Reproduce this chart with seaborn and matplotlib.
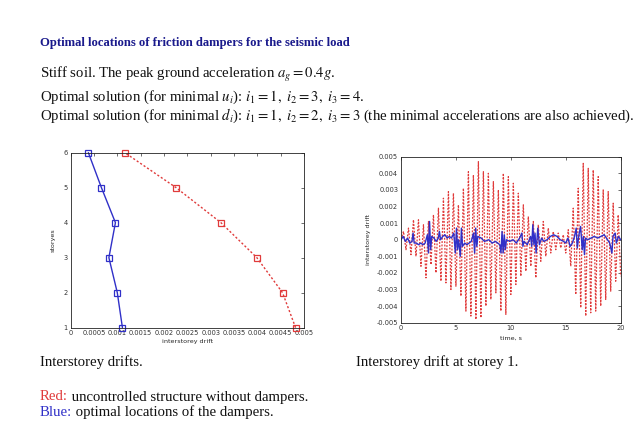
import matplotlib
matplotlib.use('Agg')
import matplotlib.pyplot as plt
import seaborn as sns
import pandas as pd
import numpy as np

# ── Data: interstorey drift per storey ───────────────────
storeys = [1, 2, 3, 4, 5, 6]
drift_red = [0.00482, 0.00454, 0.00399, 0.00322, 0.00226, 0.00116]
drift_blue = [0.00111, 0.00100, 0.00082, 0.00096, 0.00066, 0.00038]

# ── Data: drift at storey 1 over time (read extremes) ────
red_peaks = [0.0005, 0.0007, 0.0012, 0.0012, 0.0009, 0.0011, 0.0015, 0.0019,
             0.0025, 0.0029, 0.0028, 0.0021, 0.0031, 0.0041, 0.0039, 0.0047,
             0.0041, 0.0040, 0.0035, 0.0030, 0.0040, 0.0038, 0.0034, 0.0028,
             0.0021, 0.0014, 0.0011, 0.0009, 0.0011, 0.0007, 0.0005, 0.0004,
             0.0003, 0.0006, 0.0019, 0.0031, 0.0046, 0.0043, 0.0042, 0.0038,
             0.0030, 0.0029, 0.0022, 0.0015]
red_troughs = [-0.0006, -0.0009, -0.0010, -0.0016, -0.0023, -0.0015, -0.0020,
               -0.0025, -0.0026, -0.0030, -0.0028, -0.0034, -0.0043, -0.0046,
               -0.0048, -0.0047, -0.0040, -0.0036, -0.0032, -0.0043, -0.0045,
               -0.0033, -0.0027, -0.0022, -0.0019, -0.0016, -0.0023, -0.0013,
               -0.0010, -0.0008, -0.0006, -0.0005, -0.0008, -0.0016, -0.0033,
               -0.0041, -0.0046, -0.0044, -0.0043, -0.0040, -0.0036, -0.0031,
               -0.0025, -0.0022]

blue_t = [0.0, 0.2, 0.4, 0.6, 0.8, 1.0, 1.1, 1.2, 1.4, 1.6, 1.8, 2.0, 2.2, 2.4,
          2.5, 2.6, 2.7, 2.8, 3.0, 3.2, 3.4, 3.5, 3.6, 3.8, 4.0, 4.2, 4.4, 4.6,
          4.8, 4.95, 5.05, 5.15, 5.25, 5.4, 5.5, 5.6, 5.8, 6.0, 6.2, 6.4, 6.6,
          6.7, 6.8, 6.9, 7.0, 7.3, 7.6, 8.0, 8.3, 8.6, 9.0, 9.1, 9.2, 9.3, 9.4,
          9.5, 9.6, 9.9, 10.2, 10.5, 10.8, 11.0, 11.1, 11.2, 11.5, 11.8, 11.9,
          12.0, 12.1, 12.2, 12.3, 12.45, 12.6, 12.8, 13.0, 13.3, 13.6, 13.9,
          14.2, 14.5, 14.8, 15.0, 15.2, 15.4, 15.6, 15.8, 15.95, 16.05, 16.2,
          16.35, 16.5, 16.6, 16.7, 16.8, 17.0, 17.3, 17.6, 17.9, 18.2, 18.5,
          18.8, 19.0, 19.2, 19.3, 19.5, 19.6, 19.8, 20.0]
blue_v = [0.0, 0.0002, -0.0001, 0.0001, -0.0002, -0.0001, 0.0004, -0.0002,
          -0.0002, -0.0003, -0.0002, -0.0003, -0.0002, 0.0003, -0.0008, 0.0011,
          -0.0006, 0.0002, 0.0001, -0.0001, 0.0001, 0.0005, 0.0, 0.0002, 0.0003,
          0.0001, 0.0002, 0.0001, 0.0004, -0.0008, 0.0007, -0.0006, 0.0, -0.0010,
          0.0007, -0.0004, -0.0002, -0.0003, -0.0002, -0.0001, 0.0004, -0.0008,
          0.0007, -0.0004, 0.0002, 0.0001, -0.0001, 0.0, -0.0002, -0.0001,
          -0.0003, -0.0008, 0.0005, -0.0008, 0.0003, -0.0006, 0.0, -0.0001, 0.0,
          -0.0002, 0.0001, 0.0004, -0.0004, -0.0001, -0.0003, 0.0002, -0.0004,
          0.0009, -0.0003, 0.0004, -0.0008, 0.0007, -0.0003, 0.0001, -0.0001,
          0.0, 0.0002, 0.0003, 0.0002, 0.0, -0.0001, -0.0002, 0.0001, -0.0004,
          -0.0002, 0.0002, 0.0007, -0.0005, 0.0003, 0.0008, -0.0006, 0.0002,
          -0.0009, 0.0001, 0.0, 0.0001, 0.0002, 0.0001, 0.0002, 0.0003, 0.0,
          -0.0002, -0.0008, 0.0002, 0.0004, -0.0002, 0.0002, 0.0]

# time series of red extremes: peak, trough, peak, ... evenly sampled
red_v = [0.0]
for p, q in zip(red_peaks, red_troughs):
    red_v += [p, q]
red_t = np.linspace(0, 20, len(red_v))

RED = '#e03a3a'
BLUE = '#3030c8'
TITLE = '#1a1a8c'
BODY_FS = 10.6

sns.set_theme(style='white')
plt.rcParams['font.family'] = ['DejaVu Sans']
plt.rcParams['mathtext.fontset'] = 'stix'

fig = plt.figure(figsize=(6.42, 4.30), dpi=100)
fig.patch.set_facecolor('white')

serif = ['Liberation Serif', 'DejaVu Serif']

# ── Slide text ───────────────────────────────────────────
fig.text(40 / 642, 1 - 43 / 430,
         'Optimal locations of friction dampers for the seismic load',
         family=serif, fontsize=9.1, fontweight='bold', color=TITLE, va='center')
body = [
    (75, r'Stiff soil. The peak ground acceleration $a_g = 0.4g$.'),
    (97, r'Optimal solution (for minimal $u_i$): $i_1 = 1,\ i_2 = 3,\ i_3 = 4$.'),
    (116, r'Optimal solution (for minimal $d_i$): $i_1 = 1,\ i_2 = 2,\ i_3 = 3$ '
          '(the minimal accelerations are also achieved).'),
]
for y, s in body:
    fig.text(40 / 642, 1 - y / 430, s, family=serif, fontsize=BODY_FS,
             color='#111111', va='center')

# ── Left: drift per storey ───────────────────────────────
df_left = pd.DataFrame({'storey': storeys * 2,
                        'drift': drift_red + drift_blue,
                        'case': ['red'] * 6 + ['blue'] * 6})
ax1 = fig.add_axes([0.110, 0.238, 0.3635, 0.407])
sns.lineplot(data=df_left[df_left.case == 'red'], x='drift', y='storey',
             orient='y', color=RED, linestyle=(0, (1.5, 1.5)), linewidth=1.0,
             marker='s', markersize=4.5, markerfacecolor='none',
             markeredgecolor=RED, markeredgewidth=0.9, ax=ax1)
sns.lineplot(data=df_left[df_left.case == 'blue'], x='drift', y='storey',
             orient='y', color=BLUE, linewidth=1.0,
             marker='s', markersize=4.5, markerfacecolor='none',
             markeredgecolor=BLUE, markeredgewidth=0.9, ax=ax1)
for ln in ax1.lines:
    ln.set_clip_on(False)
ax1.set_xlim(0, 0.005)
ax1.set_ylim(1, 6)
ax1.set_xticks(np.arange(0, 0.00501, 0.0005))
ax1.set_xticklabels(['0', '0.0005', '0.001', '0.0015', '0.002', '0.0025',
                     '0.003', '0.0035', '0.004', '0.0045', '0.005'])
ax1.set_yticks(storeys)
ax1.set_xlabel('interstorey drift', fontsize=4.6, labelpad=2)
ax1.set_ylabel('storyes', fontsize=4.6, labelpad=6)

# ── Right: drift history at storey 1 ─────────────────────
ax2 = fig.add_axes([0.6246, 0.2495, 0.3422, 0.386])
sns.lineplot(x=red_t, y=red_v, color=RED, linewidth=0.9,
             linestyle=(0, (1.5, 1.2)), estimator=None, ax=ax2)
sns.lineplot(x=blue_t, y=blue_v, color=BLUE, linewidth=1.0,
             estimator=None, ax=ax2)
ax2.set_xlim(0, 20)
ax2.set_ylim(-0.005, 0.005)
ax2.set_xticks([0, 5, 10, 15, 20])
yt = np.round(np.arange(-0.005, 0.00501, 0.001), 3)
ax2.set_yticks(yt)
ax2.set_yticklabels(['0' if v == 0 else f'{v:g}' for v in yt])
ax2.set_xlabel('time, s', fontsize=4.6, labelpad=3)
ax2.set_ylabel('interstorey drift', fontsize=4.6, labelpad=4)

for ax in (ax1, ax2):
    ax.tick_params(direction='in', top=True, right=True, length=2.5,
                   width=0.5, labelsize=4.8, pad=2, colors='#333333')
    for sp in ax.spines.values():
        sp.set_linewidth(0.6)
        sp.set_color('#222222')
    ax.set_facecolor('white')

# ── Captions ─────────────────────────────────────────────
fig.text(40 / 642, 1 - 362 / 430, 'Interstorey drifts.', family=serif,
         fontsize=BODY_FS, color='#111111', va='center')
fig.text(356 / 642, 1 - 362 / 430, 'Interstorey drift at storey 1.',
         family=serif, fontsize=BODY_FS, color='#111111', va='center')

renderer = fig.canvas.get_renderer()
for y, word, col, rest in [(397, 'Red:', RED, ' uncontrolled structure without dampers.'),
                           (412, 'Blue:', BLUE, ' optimal locations of the dampers.')]:
    t = fig.text(40 / 642, 1 - y / 430, word, family=serif, fontsize=BODY_FS,
                 color=col, va='center')
    bb = t.get_window_extent(renderer)
    fig.text(bb.x1 / fig.bbox.width, 1 - y / 430, rest, family=serif,
             fontsize=BODY_FS, color='#111111', va='center')

fig.savefig('out.png', dpi=100, facecolor='white')
